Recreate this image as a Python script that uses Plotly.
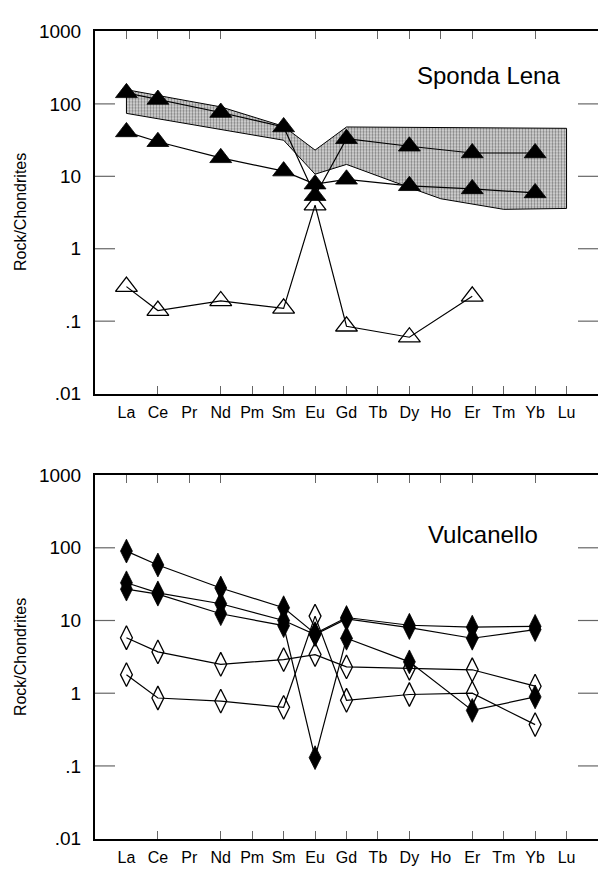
import math
import plotly.graph_objects as go

# ---------------- data ----------------
ree = ['La', 'Ce', 'Pr', 'Nd', 'Pm', 'Sm', 'Eu', 'Gd', 'Tb', 'Dy', 'Ho', 'Er', 'Tm', 'Yb', 'Lu']
measured = ['La', 'Ce', 'Nd', 'Sm', 'Eu', 'Gd', 'Dy', 'Er', 'Yb']

# Sponda Lena
sl_filled_a = [142, 115, 76, 48, 5.4, 33, 26, 21, 21]
sl_filled_b = [41, 30, 18, 11.8, 7.8, 9.1, 7.4, 6.7, 5.9]
sl_open_el = ['La', 'Ce', 'Nd', 'Sm', 'Eu', 'Gd', 'Dy', 'Er']
sl_open = [0.30, 0.14, 0.19, 0.15, 4.0, 0.085, 0.06, 0.22]

band_upper_el = ['La', 'Ce', 'Pr', 'Nd', 'Sm', 'Eu', 'Gd', 'Lu']
band_upper = [157, 132, 109, 91, 49, 23, 48, 46]
band_lower_el = ['Lu', 'Tm', 'Ho', 'Dy', 'Gd', 'Eu', 'Sm', 'La']
band_lower = [3.6, 3.5, 4.9, 7.0, 14.6, 10.7, 31.5, 74]

# Vulcanello
vu_filled_1 = [90, 58, 28, 15, 6.6, 11, 8.6, 8.1, 8.3]
vu_filled_2 = [33, 24, 17, 10, 6.4, 10.5, 8.0, 5.7, 7.5]
vu_filled_3 = [27, 23, 12.4, 8.5, 0.13, 5.7, 2.7, 0.58, 0.89]
vu_open_1 = [5.8, 3.7, 2.5, 2.9, 3.4, 2.3, 2.2, 2.1, 1.25]
vu_open_2 = [1.8, 0.86, 0.78, 0.64, 11.5, 0.8, 0.96, 1.0, 0.37]

y_tickvals = [0.01, 0.1, 1, 10, 100, 1000]
y_ticktext = ['.01', '.1', '1', '10', '100', '1000']
side_tickvals = [0.1, 1, 10, 100]
top_tick_el = ['La', 'Ce', 'Pr', 'Nd', 'Eu', 'Tb', 'Dy', 'Ho', 'Er', 'Yb']
bottom_tick_el = ['Ce', 'Nd', 'Pm', 'Sm', 'Eu', 'Gd', 'Tb', 'Dy', 'Er', 'Tm', 'Yb', 'Lu']

titles = ['Sponda Lena', 'Vulcanello']

# ---------------- helpers ----------------
pos = {e: i + 1 for i, e in enumerate(ree)}
def xs(els):
    return [pos[e] for e in els]

FONT = 'Arial, Liberation Sans, sans-serif'
TICKC = '#666666'
YLOG = [-2, 3]
fig = go.Figure()

def line_trace(els, vals, symbol, xa, ya, size):
    open_ = symbol.endswith('open')
    fig.add_trace(go.Scatter(
        x=xs(els), y=vals, mode='lines+markers', xaxis=xa, yaxis=ya,
        line=dict(color='black', width=1.2),
        marker=dict(symbol=symbol, size=size, color='black',
                    line=dict(color='black', width=1.3 if open_ else 0.8)),
        showlegend=False, hoverinfo='skip'))

# band (Sponda Lena)
fig.add_trace(go.Scatter(
    x=xs(band_upper_el) + xs(band_lower_el) + [pos[band_upper_el[0]]],
    y=band_upper + band_lower + [band_upper[0]],
    mode='lines', fill='toself', xaxis='x', yaxis='y',
    line=dict(color='black', width=1),
    fillcolor='#c0c0c0',
    fillpattern=dict(shape='.', fgcolor='#222222', bgcolor='#dcdcdc', size=3, solidity=0.45),
    showlegend=False, hoverinfo='skip'))

line_trace(measured, sl_filled_a, 'triangle-up', 'x', 'y', 19)
line_trace(measured, sl_filled_b, 'triangle-up', 'x', 'y', 19)
line_trace(sl_open_el, sl_open, 'triangle-up-open', 'x', 'y', 19)

line_trace(measured, vu_open_1, 'diamond-tall-open', 'x2', 'y2', 17)
line_trace(measured, vu_open_2, 'diamond-tall-open', 'x2', 'y2', 17)
line_trace(measured, vu_filled_1, 'diamond-tall', 'x2', 'y2', 17)
line_trace(measured, vu_filled_2, 'diamond-tall', 'x2', 'y2', 17)
line_trace(measured, vu_filled_3, 'diamond-tall', 'x2', 'y2', 17)

# empty traces so the overlay (frame / tick) x axes are drawn
for i in range(2):
    yr = 'y' if i == 0 else 'y2'
    for xa in ['x%d' % (3 + 2 * i), 'x%d' % (4 + 2 * i)]:
        fig.add_trace(go.Scatter(x=[None], y=[None], xaxis=xa, yaxis=yr, mode='markers',
                                 showlegend=False, hoverinfo='skip'))

W, H = 606, 876
xdom = [95 / W, 598 / W]
ydoms = [[1 - 393 / H, 1 - 22 / H], [1 - 849 / H, 1 - 476.5 / H]]

layout = dict(
    width=W, height=H, margin=dict(l=0, r=0, t=0, b=0),
    paper_bgcolor='white', plot_bgcolor='white',
    font=dict(family=FONT, color='black'),
)

shapes = []
tick_frac = 20 / (xdom[1] - xdom[0]) / W  # 20 px as fraction of plot width
for i in range(2):
    xn = 'xaxis' if i == 0 else 'xaxis2'
    yn = 'yaxis' if i == 0 else 'yaxis2'
    xr = 'x' if i == 0 else 'x2'
    yr = 'y' if i == 0 else 'y2'
    xtop = 'xaxis%d' % (3 + 2 * i)
    xbot = 'xaxis%d' % (4 + 2 * i)
    layout[xn] = dict(domain=xdom, anchor=yr, range=[0, 16], tickmode='array',
                      tickvals=list(range(1, 16)), ticktext=ree, ticks='',
                      tickfont=dict(size=16), showline=True, linewidth=2,
                      linecolor='black', showgrid=False, zeroline=False,
                      ticklabelstandoff=3)
    layout[yn] = dict(domain=ydoms[i], anchor=xr, type='log', range=YLOG,
                      tickmode='array', tickvals=y_tickvals, ticktext=y_ticktext,
                      ticks='', tickfont=dict(size=19), showline=True, linewidth=2,
                      linecolor='black', showgrid=False, zeroline=False,
                      ticklabelstandoff=8)
    layout[xtop] = dict(overlaying=xr, side='top', anchor=yr, range=[0, 16],
                        tickmode='array', tickvals=xs(top_tick_el), ticks='inside',
                        ticklen=8, tickcolor=TICKC, tickwidth=1.2, showticklabels=False,
                        showline=True, linewidth=2, linecolor='black',
                        showgrid=False, zeroline=False)
    layout[xbot] = dict(overlaying=xr, side='bottom', anchor=yr, range=[0, 16],
                        tickmode='array', tickvals=xs(bottom_tick_el), ticks='inside',
                        ticklen=8, tickcolor=TICKC, tickwidth=1.2, showticklabels=False,
                        showline=False, showgrid=False, zeroline=False)
    # inward decade ticks on the left and right edges
    for v in side_tickvals:
        f = (math.log10(v) - YLOG[0]) / (YLOG[1] - YLOG[0])
        for x0, x1 in [(0, tick_frac), (1 - tick_frac, 1)]:
            shapes.append(dict(type='line', xref=xr + ' domain', yref=yr + ' domain',
                               x0=x0, x1=x1, y0=f, y1=f, layer='above',
                               line=dict(color=TICKC, width=1.2)))

layout['shapes'] = shapes
fig.update_layout(**layout)

annotations = [
    dict(text=titles[0], x=488 / W, y=1 - 67 / H, xref='paper', yref='paper',
         showarrow=False, font=dict(size=24, family=FONT), xanchor='center', yanchor='middle'),
    dict(text=titles[1], x=483 / W, y=1 - 537 / H, xref='paper', yref='paper',
         showarrow=False, font=dict(size=24, family=FONT), xanchor='center', yanchor='middle'),
    dict(text='Rock/Chondrites', x=20 / W, y=1 - 207 / H, xref='paper', yref='paper',
         showarrow=False, textangle=-90, font=dict(size=16, family=FONT),
         xanchor='center', yanchor='middle'),
    dict(text='Rock/Chondrites', x=20 / W, y=1 - 663 / H, xref='paper', yref='paper',
         showarrow=False, textangle=-90, font=dict(size=16, family=FONT),
         xanchor='center', yanchor='middle'),
]
fig.update_layout(annotations=annotations)

fig.write_html('out.html')
